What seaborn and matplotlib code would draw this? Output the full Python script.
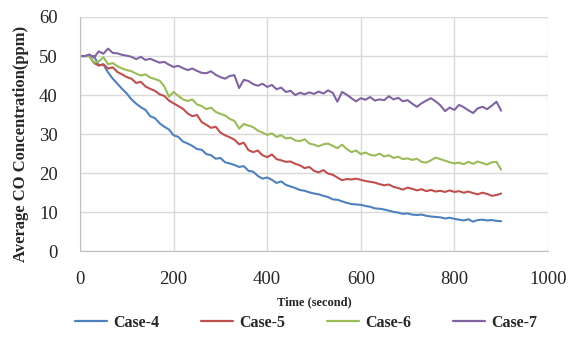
import numpy as np
import pandas as pd
import seaborn as sns
import matplotlib.pyplot as plt

# time axis, one reading every 10 s
time_s = np.arange(0, 901, 10)

case4 = [50.0, 50.0, 50.0, 50.0, 47.6, 47.8, 45.8, 44.2, 42.9, 41.6,
         40.4, 38.9, 37.8, 36.9, 36.2, 34.6, 34.1, 32.8, 31.9, 31.2,
         29.7, 29.3, 28.1, 27.6, 27.0, 26.2, 26.0, 24.9, 24.6, 23.7,
         23.9, 22.8, 22.5, 22.1, 21.6, 21.8, 20.6, 20.4, 19.3, 18.6,
         18.9, 18.3, 17.5, 17.9, 17.0, 16.6, 16.2, 15.7, 15.5, 15.1,
         14.8, 14.6, 14.2, 13.9, 13.3, 13.2, 12.8, 12.4, 12.1, 12.0,
         11.9, 11.6, 11.4, 11.0, 10.9, 10.7, 10.4, 10.1, 9.9, 9.6,
         9.7, 9.4, 9.3, 9.4, 9.1, 8.9, 8.8, 8.7, 8.4, 8.6,
         8.3, 8.1, 7.9, 8.2, 7.6, 8.0, 8.1, 7.9, 8.0, 7.8,
         7.7]
case5 = [50.0, 50.0, 50.0, 48.2, 47.6, 47.9, 46.8, 47.1, 45.9, 45.3,
         44.6, 44.2, 43.1, 43.4, 42.2, 41.6, 41.1, 40.2, 39.8, 38.6,
         37.9, 37.2, 36.5, 35.3, 34.6, 34.9, 33.1, 32.4, 31.6, 31.9,
         30.4, 29.7, 29.2, 28.6, 27.4, 27.8, 25.9, 25.4, 25.8, 24.6,
         24.1, 24.8, 23.6, 23.3, 22.9, 23.0, 22.4, 22.0, 21.3, 21.6,
         20.6, 20.2, 20.8, 19.9, 19.6, 18.9, 18.2, 18.5, 18.4, 18.6,
         18.3, 18.0, 17.8, 17.6, 17.2, 16.9, 17.1, 16.5, 16.2, 15.8,
         16.3, 16.0, 15.6, 15.9, 15.4, 15.7, 15.3, 15.5, 15.2, 15.6,
         15.2, 15.4, 15.0, 15.3, 14.9, 14.6, 15.0, 14.7, 14.2, 14.4,
         14.8]
case6 = [50.0, 50.0, 50.0, 48.3, 48.6, 49.7, 47.9, 48.2, 47.4, 46.8,
         46.4, 46.1, 45.5, 45.0, 45.3, 44.5, 44.1, 43.7, 42.3, 39.6,
         40.8, 39.8, 38.9, 38.5, 38.9, 37.6, 37.2, 36.4, 36.8, 35.7,
         35.2, 34.8, 33.9, 33.4, 31.4, 32.6, 32.2, 31.8, 30.9, 30.4,
         29.8, 30.2, 29.3, 29.7, 28.9, 29.1, 28.4, 28.2, 28.7, 27.6,
         27.3, 26.9, 27.4, 27.6, 27.0, 26.4, 27.3, 26.2, 25.4, 25.8,
         24.9, 25.3, 24.7, 24.5, 25.0, 24.3, 24.6, 23.9, 24.2, 23.6,
         23.8, 23.4, 23.7, 22.9, 22.7, 23.3, 24.0, 23.6, 23.2, 22.8,
         22.5, 22.7, 22.3, 22.9, 22.4, 23.0, 22.6, 22.2, 22.8, 22.9,
         20.9]
case7 = [50.0, 50.0, 50.4, 49.6, 51.2, 50.6, 51.9, 50.8, 50.7, 50.3,
         50.1, 49.8, 49.2, 49.8, 49.0, 49.3, 48.8, 48.3, 48.5, 47.8,
         47.2, 47.5, 46.9, 46.4, 46.8, 46.2, 45.7, 45.6, 46.1, 45.2,
         44.6, 44.2, 44.9, 45.1, 41.8, 43.9, 43.6, 42.8, 42.4, 42.9,
         42.1, 42.6, 41.5, 41.9, 40.8, 41.1, 40.0, 40.6, 40.2, 40.7,
         40.3, 40.9, 40.4, 41.2, 40.6, 38.3, 40.8, 40.1, 39.2, 38.4,
         39.2, 38.8, 39.5, 38.6, 38.9, 38.7, 39.7, 38.9, 39.3, 38.4,
         38.7, 37.8, 37.0, 37.9, 38.6, 39.2, 38.4, 37.4, 35.9, 36.8,
         36.2, 37.5, 36.9, 36.1, 35.4, 36.6, 37.0, 36.4, 37.3, 38.3,
         36.0]

case_names = ["Case-4", "Case-5", "Case-6", "Case-7"]
colors = ["#4F81BD", "#C0504D", "#9BBB59", "#8064A2"]

frames = []
for name, vals in zip(case_names, [case4, case5, case6, case7]):
    frames.append(pd.DataFrame({"time": time_s, "co": vals, "case": name}))
df = pd.concat(frames, ignore_index=True)

sns.set_style("white")
plt.rcParams["font.family"] = ["Liberation Serif", "DejaVu Serif"]

fig = plt.figure(figsize=(5.69, 3.37), dpi=100)
ax = fig.add_axes([0.1406, 0.2543, 0.8224, 0.6953])

sns.lineplot(data=df, x="time", y="co", hue="case", palette=colors,
             linewidth=1.5, legend=False, ax=ax)

ax.set_xlim(0, 1000)
ax.set_ylim(0, 60)
ax.set_xticks([0, 200, 400, 600, 800, 1000])
ax.set_yticks([0, 10, 20, 30, 40, 50, 60])
ax.tick_params(axis="both", length=0, labelsize=13.5)
ax.tick_params(axis="x", pad=14)
ax.tick_params(axis="y", pad=16)
ax.grid(True, color="#d9d9d9", linewidth=1)
for side in ["top", "right"]:
    ax.spines[side].set_visible(False)
for side in ["left", "bottom"]:
    ax.spines[side].set_color("#bfbfbf")

ax.set_xlabel("Time (second)", fontsize=9, fontweight="bold", labelpad=6)
ax.set_ylabel("Average CO Concentration(ppm)", fontsize=12, fontweight="bold",
              labelpad=2)
ax.yaxis.set_label_coords(-0.11, 0.46)

handles = [plt.Line2D([], [], color=c, linewidth=1.6) for c in colors]
fig.legend(handles, case_names, loc="lower center", ncol=4, frameon=False,
           bbox_to_anchor=(0.538, -0.025), prop={"weight": "bold", "size": 11.5},
           handlelength=2.0, handletextpad=0.4, columnspacing=2.6)

fig.savefig("out.png", dpi=100)
